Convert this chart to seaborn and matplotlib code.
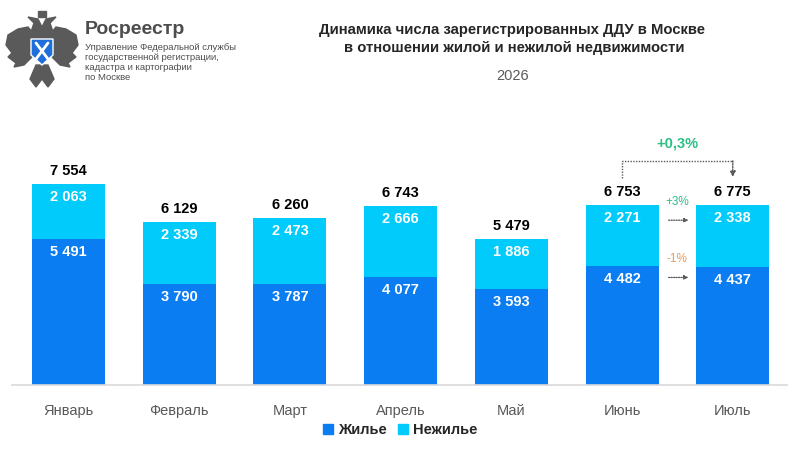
import numpy as np
import pandas as pd
import matplotlib
matplotlib.use("Agg")
import matplotlib.pyplot as plt
from matplotlib.patches import Polygon, Rectangle, Patch
import seaborn as sns

# Данные ДДУ, Москва 2026
months = ["Январь", "Февраль", "Март", "Апрель", "Май", "Июнь", "Июль"]
housing = [5491, 3790, 3787, 4077, 3593, 4482, 4437]
non_housing = [2063, 2339, 2473, 2666, 1886, 2271, 2338]
total_change = "+0,3%"
housing_change = "-1%"
non_housing_change = "+3%"

totals = [a + b for a, b in zip(housing, non_housing)]
df = pd.DataFrame({"month": months, "housing": housing,
                   "non_housing": non_housing, "total": totals})

def fmt(v):
    return f"{v:,}".replace(",", " ")

sns.set_theme(style="white")
plt.rcParams["font.family"] = ["Liberation Sans", "DejaVu Sans"]

C_DARK = "#0A7DF2"
C_LIGHT = "#00CBFB"
GRAY = "#595959"

fig = plt.figure(figsize=(8, 4.5), dpi=100)
ax = fig.add_axes([12 / 800, 1 - 385 / 450, 775 / 800, 255 / 450])

# stacked via overlay: total bar (light) then housing (dark)
sns.barplot(data=df, x="month", y="total", color=C_LIGHT, width=0.66,
            saturation=1, linewidth=0, ax=ax)
sns.barplot(data=df, x="month", y="housing", color=C_DARK, width=0.66,
            saturation=1, linewidth=0, ax=ax)

ax.set_xlim(-0.51, 6.49)
ax.set_ylim(0, 9583)
ax.set_xlabel("")
ax.set_ylabel("")
ax.set_yticks([])
for s in ["top", "right", "left"]:
    ax.spines[s].set_visible(False)
ax.spines["bottom"].set_color("#D9D9D9")
ax.spines["bottom"].set_linewidth(1.2)
ax.tick_params(axis="x", length=0, pad=14, labelsize=10.5, labelcolor=GRAY)

off = 13 / 0.02661  # ~13 px in data units
for i in range(len(months)):
    ax.text(i, totals[i] + off, fmt(totals[i]), ha="center", va="center",
            fontsize=10.5, fontweight="bold", color="black")
    ax.text(i, totals[i] - off, fmt(non_housing[i]), ha="center", va="center",
            fontsize=10.5, fontweight="bold", color="white")
    ax.text(i, housing[i] - off, fmt(housing[i]), ha="center", va="center",
            fontsize=10.5, fontweight="bold", color="white")

# June -> July comparison
j, k = 5, 6
top_y = totals[j] + 1670
ax.plot([j, j, k], [totals[j] + 1010, top_y, top_y], ls=(0, (1, 1)),
        color=GRAY, lw=1)
ax.annotate("", xy=(k, totals[k] + 1040), xytext=(k, top_y),
            arrowprops=dict(arrowstyle="-|>", ls=(0, (1, 1)), color=GRAY,
                            lw=1, mutation_scale=8, shrinkA=0, shrinkB=0))
ax.text((j + k) / 2, top_y + 640, total_change, ha="center", va="center",
        fontsize=10.5, fontweight="bold", color="#2DBE86")

mid = (j + k) / 2
for yv, lab, col in [(totals[j] - 560, non_housing_change, "#2DBE86"),
                     (housing[j] - 440, housing_change, "#F0995A")]:
    ax.annotate("", xy=(mid + 0.1, yv), xytext=(mid - 0.08, yv),
                arrowprops=dict(arrowstyle="-|>", ls=(0, (1, 1)), color=GRAY,
                                lw=0.9, mutation_scale=6, shrinkA=0, shrinkB=0))
    ax.text(mid, yv + 680, lab, ha="center", va="center", fontsize=8.5,
            color=col)

# title
fig.text(512 / 800, 1 - 30 / 450, "Динамика числа зарегистрированных ДДУ в Москве",
         ha="center", va="center", fontsize=10.75, fontweight="bold")
fig.text(514 / 800, 1 - 48 / 450, "в отношении жилой и нежилой недвижимости",
         ha="center", va="center", fontsize=10.75, fontweight="bold")
fig.text(513 / 800, 1 - 76 / 450, "2026", ha="center", va="center",
         fontsize=10.5, color=GRAY)

# logo text
fig.text(85 / 800, 1 - 29 / 450, "Росреестр", ha="left", va="center",
         fontsize=14, fontweight="bold", color="#4D4D4D")
for n, line in enumerate(["Управление Федеральной службы",
                          "государственной регистрации,",
                          "кадастра и картографии",
                          "по Москве"]):
    fig.text(85 / 800, 1 - (47 + n * 10) / 450, line, ha="left",
             va="center", fontsize=6.8, color="#4D4D4D")

# simplified emblem
lax = fig.add_axes([4 / 800, 1 - 90 / 450, 76 / 800, 82 / 450])
lax.set_xlim(-38, 38)
lax.set_ylim(-41, 41)
lax.axis("off")
eg = "#5A5A5A"
wing = [(-6, 12), (-14, 22), (-24, 20), (-34, 14), (-36, 4), (-30, -4),
        (-34, -8), (-26, -14), (-28, -18), (-18, -16), (-10, -8)]
lax.add_patch(Polygon(wing, closed=True, color=eg))
lax.add_patch(Polygon([(-x, y) for x, y in wing], closed=True, color=eg))
lax.add_patch(Polygon([(-12, 14), (-8, 26), (-14, 32), (-4, 30), (0, 22),
                       (4, 30), (14, 32), (8, 26), (12, 14), (0, 8)],
                      closed=True, color=eg))
lax.add_patch(Rectangle((-4, 32), 8, 6, color=eg))
lax.add_patch(Polygon([(-6, -16), (-12, -30), (-6, -38), (0, -30), (6, -38),
                       (12, -30), (6, -16)], closed=True, color=eg))
lax.add_patch(Polygon([(-11, 10), (11, 10), (11, -6), (0, -16), (-11, -6)],
                      closed=True, color="#1E6FD9", ec="white", lw=1))
lax.plot([-6, 6], [6, -10], color="white", lw=2)
lax.plot([6, -6], [6, -10], color="white", lw=2)

# legend
handles = [Patch(color=C_DARK, label="Жилье"),
           Patch(color=C_LIGHT, label="Нежилье")]
fig.legend(handles=handles, loc="center", bbox_to_anchor=(0.5, 1 - 430 / 450),
           ncol=2, frameon=False, handlelength=0.7, handleheight=0.7,
           handletextpad=0.3, columnspacing=0.8,
           prop={"size": 10.5, "weight": "bold"})

fig.savefig("out.png", dpi=100)
